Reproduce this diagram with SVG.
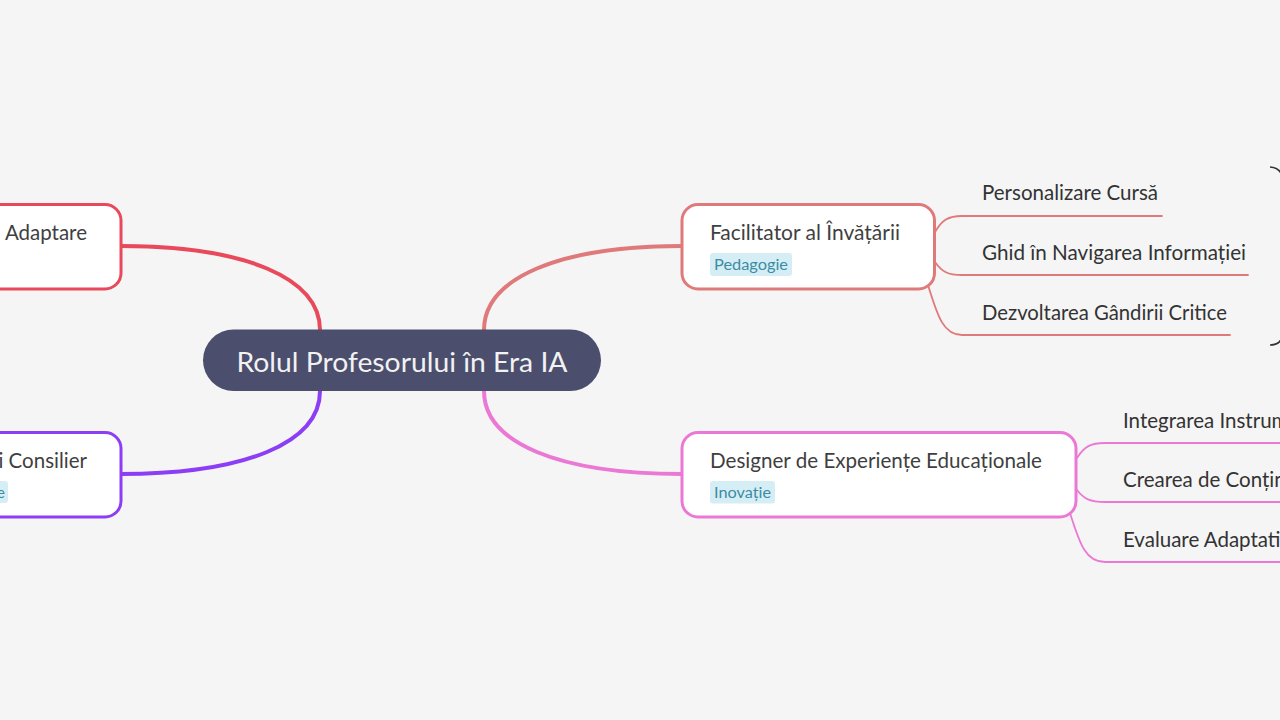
<svg xmlns="http://www.w3.org/2000/svg" width="1280" height="720" viewBox="0 0 1280 720">
<style>
text{font-family:Lato,"Noto Sans","Liberation Sans",sans-serif}
.node{fill:#ffffff;stroke-width:3}
.ntext{font-size:20.5px;fill:#3f3f3f}
.sub{font-size:20.5px;fill:#333333}
.tag{fill:#d5eef6}
.tagt{font-size:15.5px;fill:#3d8ba3}
.main{fill:none;stroke-width:4;stroke-linecap:round}
.thin{fill:none;stroke-width:1.8;stroke-linecap:round}
</style>
<rect x="0" y="0" width="1280" height="720" fill="#f5f5f5"/>
<g id="connectors">
<path class="main" d="M320,330 C320,278 245,246 121,246" stroke="#e8495b"/>
<path class="main" d="M320,391 C320,443 245,474 121,474" stroke="#8b3ef6"/>
<path class="main" d="M484,330 C484,278 559,246 682,246" stroke="#e07a7a"/>
<path class="main" d="M484,391 C484,443 559,474 682,474" stroke="#eb78d5"/>
<path class="thin" d="M935,232 C942,220 948,216 962,216 L1162,216" stroke="#e07a7a"/>
<path class="thin" d="M935,262 C942,272 948,275 962,275 L1248,275" stroke="#e07a7a"/>
<path class="thin" d="M928,285 C938,318 944,335 962,335 L1230,335" stroke="#e07a7a"/>
<path class="thin" d="M1077,458 C1084,447 1090,443 1105,443 L1285,443" stroke="#eb78d5"/>
<path class="thin" d="M1077,490 C1084,499 1090,502 1105,502 L1285,502" stroke="#eb78d5"/>
<path class="thin" d="M1070,513 C1080,545 1086,562 1105,562 L1285,562" stroke="#eb78d5"/>
<path d="M1270,167 Q1282,168 1283,180 L1283,333 Q1282,345 1270,345" fill="none" stroke="#333333" stroke-width="1.6"/>
</g>
<g id="central">
<rect x="203" y="329.5" width="398" height="61.5" rx="30.75" fill="#4b4e6c"/>
<text x="402" y="372" text-anchor="middle" font-size="26" fill="#f2f2f2" textLength="331" lengthAdjust="spacingAndGlyphs">Rolul Profesorului în Era IA</text>
</g>
<g id="node-adaptare">
<rect class="node" x="-120" y="204.5" width="241" height="84.5" rx="16" stroke="#e8495b"/>
<text class="ntext" x="87" y="240" text-anchor="end">Adaptare</text>
</g>
<g id="node-consilier">
<rect class="node" x="-120" y="432.5" width="241" height="84.5" rx="16" stroke="#8b3ef6"/>
<text class="ntext" x="87" y="468" text-anchor="end">i Consilier</text>
<rect class="tag" x="-60" y="481" width="68" height="22" rx="3"/>
<text class="tagt" x="5" y="498" text-anchor="end">e</text>
</g>
<g id="node-facilitator">
<rect class="node" x="682" y="204.5" width="252.5" height="84.5" rx="16" stroke="#e07a7a"/>
<text class="ntext" x="710" y="240" textLength="190" lengthAdjust="spacingAndGlyphs">Facilitator al Învățării</text>
<rect class="tag" x="710" y="253" width="82" height="23" rx="3"/>
<text class="tagt" x="714" y="270" textLength="74" lengthAdjust="spacingAndGlyphs">Pedagogie</text>
</g>
<g id="node-designer">
<rect class="node" x="682" y="432.5" width="394" height="84.5" rx="16" stroke="#eb78d5"/>
<text class="ntext" x="710" y="468" textLength="332" lengthAdjust="spacingAndGlyphs">Designer de Experiențe Educaționale</text>
<rect class="tag" x="710" y="481" width="65" height="22.5" rx="3"/>
<text class="tagt" x="714" y="498" textLength="57" lengthAdjust="spacingAndGlyphs">Inovație</text>
</g>
<g id="sub-personalizare"><text class="sub" x="982" y="200" textLength="176" lengthAdjust="spacingAndGlyphs">Personalizare Cursă</text></g>
<g id="sub-ghid"><text class="sub" x="982" y="260" textLength="264" lengthAdjust="spacingAndGlyphs">Ghid în Navigarea Informației</text></g>
<g id="sub-gandire"><text class="sub" x="982" y="320" textLength="245" lengthAdjust="spacingAndGlyphs">Dezvoltarea Gândirii Critice</text></g>
<g id="sub-integrarea"><text class="sub" x="1123" y="428">Integrarea Instrum</text></g>
<g id="sub-crearea"><text class="sub" x="1123" y="487">Crearea de Conțin</text></g>
<g id="sub-evaluare"><text class="sub" x="1123" y="547">Evaluare Adaptati</text></g>
</svg>
